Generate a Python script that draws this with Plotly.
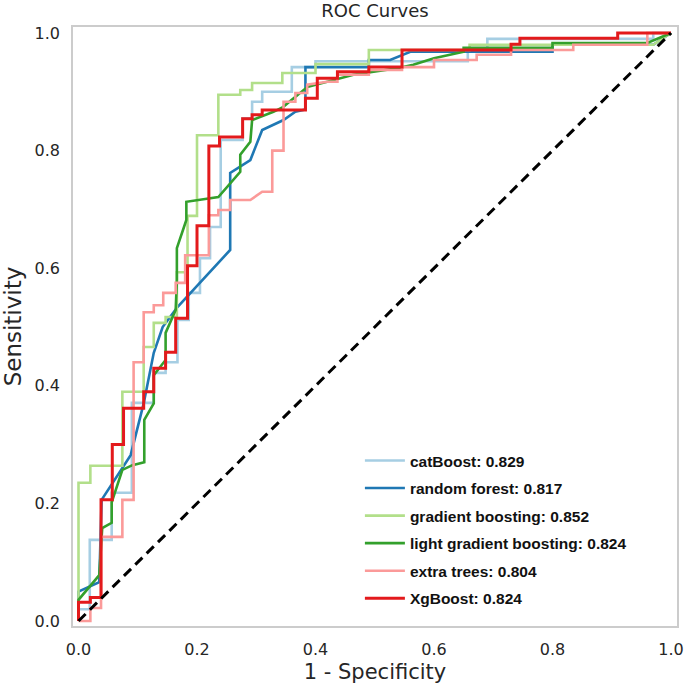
import plotly.graph_objects as go

# ROC curve points (1 - specificity, sensitivity)
cat_x = [0, 0, 0.019, 0.019, 0.056, 0.056, 0.09, 0.09, 0.127, 0.127, 0.147, 0.147, 0.167, 0.167, 0.186, 0.186,
         0.205, 0.205, 0.222, 0.222, 0.24, 0.24, 0.277, 0.277, 0.293, 0.293, 0.31, 0.31, 0.36, 0.36, 0.4, 0.4,
         0.657, 0.657, 0.69, 0.69, 0.97, 0.97, 1]
cat_y = [0, 0.02, 0.02, 0.138, 0.138, 0.218, 0.218, 0.371, 0.371, 0.422, 0.422, 0.44, 0.44, 0.512, 0.512, 0.558,
         0.558, 0.617, 0.617, 0.67, 0.67, 0.818, 0.818, 0.855, 0.855, 0.883, 0.883, 0.9, 0.9, 0.942, 0.942, 0.952,
         0.952, 0.971, 0.971, 0.99, 0.99, 1, 1]

rf_x = [0, 0, 0.035, 0.039, 0.088, 0.11, 0.127, 0.142, 0.167, 0.21, 0.256, 0.256, 0.29, 0.31, 0.346, 0.366,
        0.383, 0.383, 0.49, 0.49, 0.526, 0.56, 0.80, 0.80, 0.97, 1]
rf_y = [0, 0.05, 0.066, 0.206, 0.282, 0.37, 0.456, 0.5, 0.534, 0.58, 0.631, 0.762, 0.784, 0.835, 0.852, 0.866,
        0.87, 0.942, 0.942, 0.954, 0.954, 0.968, 0.968, 0.98, 0.98, 1]

gb_x = [0, 0, 0.02, 0.02, 0.074, 0.074, 0.11, 0.11, 0.127, 0.127, 0.147, 0.147, 0.166, 0.166, 0.184, 0.184,
        0.20, 0.20, 0.236, 0.236, 0.273, 0.273, 0.293, 0.293, 0.344, 0.344, 0.40, 0.40, 0.49, 0.49, 0.66, 0.66,
        0.97, 1]
gb_y = [0, 0.235, 0.235, 0.264, 0.264, 0.39, 0.39, 0.466, 0.466, 0.507, 0.507, 0.517, 0.517, 0.593, 0.593, 0.689,
        0.689, 0.826, 0.826, 0.895, 0.895, 0.903, 0.903, 0.915, 0.915, 0.932, 0.932, 0.947, 0.947, 0.971, 0.971, 0.98,
        0.98, 1]

lgb_x = [0, 0, 0.035, 0.04, 0.056, 0.056, 0.074, 0.091, 0.111, 0.111, 0.127, 0.127, 0.147, 0.147, 0.164, 0.166,
         0.166, 0.182, 0.182, 0.236, 0.273, 0.273, 0.29, 0.293, 0.329, 0.345, 0.386, 0.442, 0.464, 0.538, 0.565,
         0.6, 0.65, 0.65, 0.8, 0.8, 0.96, 1]
lgb_y = [0, 0.036, 0.078, 0.158, 0.167, 0.202, 0.257, 0.265, 0.27, 0.342, 0.37, 0.418, 0.444, 0.49, 0.529, 0.58,
         0.634, 0.682, 0.713, 0.721, 0.764, 0.793, 0.815, 0.852, 0.866, 0.874, 0.908, 0.923, 0.929, 0.94, 0.946,
         0.957, 0.968, 0.975, 0.975, 0.983, 0.983, 1]

et_x = [0, 0.02, 0.02, 0.038, 0.038, 0.074, 0.074, 0.093, 0.093, 0.11, 0.11, 0.127, 0.127, 0.143, 0.143, 0.164,
        0.164, 0.18, 0.18, 0.22, 0.22, 0.236, 0.236, 0.256, 0.256, 0.29, 0.31, 0.327, 0.327, 0.346, 0.346, 0.366,
        0.366, 0.386, 0.386, 0.42, 0.437, 0.437, 0.49, 0.49, 0.546, 0.546, 0.6, 0.6, 0.672, 0.672, 0.73, 0.73,
        0.835, 0.835, 0.96, 0.96, 1]
et_y = [0, 0, 0.022, 0.022, 0.143, 0.143, 0.206, 0.206, 0.44, 0.44, 0.525, 0.525, 0.537, 0.537, 0.558, 0.558,
        0.575, 0.575, 0.622, 0.622, 0.69, 0.69, 0.699, 0.699, 0.716, 0.716, 0.73, 0.73, 0.80, 0.80, 0.883, 0.883,
        0.898, 0.898, 0.912, 0.917, 0.917, 0.929, 0.929, 0.937, 0.937, 0.942, 0.942, 0.954, 0.954, 0.963, 0.963,
        0.971, 0.971, 0.98, 0.98, 1, 1]

xgb_x = [0, 0, 0.02, 0.02, 0.038, 0.038, 0.057, 0.057, 0.076, 0.076, 0.11, 0.11, 0.127, 0.127, 0.147, 0.147,
         0.164, 0.164, 0.184, 0.184, 0.20, 0.20, 0.22, 0.22, 0.238, 0.238, 0.277, 0.277, 0.293, 0.293, 0.31, 0.31,
         0.383, 0.383, 0.403, 0.403, 0.437, 0.437, 0.49, 0.49, 0.546, 0.546, 0.73, 0.73, 0.745, 0.745, 0.91, 0.91, 1]
xgb_y = [0, 0.032, 0.032, 0.04, 0.04, 0.206, 0.206, 0.30, 0.30, 0.362, 0.362, 0.39, 0.39, 0.43, 0.43, 0.457,
         0.457, 0.515, 0.515, 0.604, 0.604, 0.672, 0.672, 0.808, 0.808, 0.823, 0.823, 0.854, 0.854, 0.861, 0.861,
         0.869, 0.869, 0.889, 0.889, 0.923, 0.923, 0.934, 0.934, 0.942, 0.942, 0.971, 0.971, 0.981, 0.981, 0.991,
         0.991, 1, 1]

names = ["catBoost: 0.829", "random forest: 0.817", "gradient boosting: 0.852",
         "light gradient boosting: 0.824", "extra trees: 0.804", "XgBoost: 0.824"]
xs = [cat_x, rf_x, gb_x, lgb_x, et_x, xgb_x]
ys = [cat_y, rf_y, gb_y, lgb_y, et_y, xgb_y]
colors = ["#a6cee3", "#1f78b4", "#b2df8a", "#33a02c", "#fb9a99", "#e31a1c"]
widths = [2.6, 2.6, 2.6, 2.6, 2.6, 3]

fig = go.Figure()
for i in range(len(names)):
    fig.add_trace(go.Scatter(x=xs[i], y=ys[i], mode="lines", name=names[i], legendgroup=str(i),
                             line=dict(color=colors[i], width=widths[i])))

# chance line
fig.add_trace(go.Scatter(x=[0, 1], y=[0, 1], mode="lines", showlegend=False,
                         line=dict(color="black", width=3, dash="10px,6px")))

axis_common = dict(showgrid=False, zeroline=False, showline=True, mirror=True,
                   linecolor="#cccccc", linewidth=1.5, ticks="outside", ticklen=8,
                   tickcolor="rgba(0,0,0,0)", tickfont=dict(size=16, color="#262626"),
                   dtick=0.2, tickformat=".1f", automargin=False)

fig.update_layout(
    width=685, height=690,
    margin=dict(l=73, r=8, t=27, b=64),
    paper_bgcolor="white", plot_bgcolor="white",
    font=dict(family="DejaVu Sans", color="#262626"),
    title=dict(text="ROC Curves", x=0.5, xref="paper", y=0.984, yref="container",
               yanchor="middle", font=dict(size=18, color="#262626")),
    xaxis=dict(range=[-0.0093, 1.0101], title=dict(text="1 - Specificity", font=dict(size=21), standoff=6),
               **axis_common),
    yaxis=dict(range=[-0.0085, 1.0102], title=dict(text="Sensitivity", font=dict(size=23), standoff=8),
               **axis_common),
    legend=dict(x=0.475, y=0.304, xanchor="left", yanchor="top", bgcolor="rgba(0,0,0,0)",
                font=dict(family="Liberation Sans", size=15.5, color="#111111", weight="bold"),
                tracegroupgap=4.4, itemwidth=40),
)

fig.write_html("out.html", config={"displayModeBar": False},
               post_script="document.body.style.margin='0';")
